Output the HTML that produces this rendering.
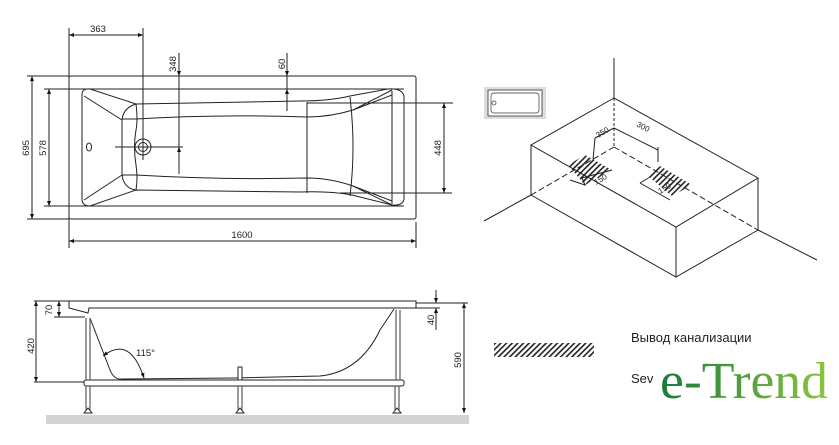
<!DOCTYPE html>
<html><head><meta charset="utf-8"><style>
html,body{margin:0;padding:0;background:#fff;width:839px;height:445px;overflow:hidden}
svg{display:block}
text{font-family:"Liberation Sans",sans-serif;fill:#222}
</style></head><body>
<svg width="839" height="445" viewBox="0 0 839 445" xmlns="http://www.w3.org/2000/svg">
<defs>
<marker id="a" viewBox="0 0 10 10" refX="10" refY="5" markerWidth="5" markerHeight="5" orient="auto-start-reverse"><path d="M0,1 L10,5 L0,9 z" fill="#111"/></marker>
<pattern id="h" width="4" height="4" patternUnits="userSpaceOnUse" patternTransform="rotate(45)"><rect width="1.6" height="4" fill="#222"/></pattern>
<linearGradient id="g" x1="0" x2="1"><stop offset="0" stop-color="#1a7a3a"/><stop offset="1" stop-color="#8cc63f"/></linearGradient>
</defs>
<g stroke="#222" stroke-width="1" fill="none">
<rect x="69" y="76" width="347" height="143" rx="2"/>
<line x1="44" y1="89" x2="404" y2="89"/>
<line x1="44" y1="206" x2="404" y2="206"/>
<line x1="27" y1="76" x2="69" y2="76"/>
<line x1="27" y1="219" x2="69" y2="219"/>
<path d="M82,95 Q82,88 90,89 L136,104 L300,101 Q330,101 350,96 L388,89 Q402,88 404,96 L404,199 Q403,206 392,205 L352,195 Q330,191 300,192 L136,190 L90,206 Q82,206 82,199 Z"/>
<path d="M136,104 Q123,108 122,120 L122,174 Q123,188 136,190"/>
<path d="M136,104 Q138,120 136,130 Q133,147 136,165 Q138,178 136,190"/>
<path d="M122,119 L136,119 Q220,114 307,117 Q330,117 353,110 L392,95"/>
<path d="M122,175 L136,175 Q220,180 307,178 Q330,178 353,186 L392,201"/>
<line x1="84" y1="96" x2="122" y2="120"/>
<line x1="84" y1="200" x2="122" y2="175"/>
<line x1="392" y1="90" x2="353" y2="110"/>
<line x1="392" y1="205" x2="353" y2="186"/>
<line x1="307" y1="102" x2="307" y2="193"/>
<path d="M350,97 Q356,147 350,196"/>
<line x1="392" y1="91" x2="392" y2="204"/>
<circle cx="143" cy="147" r="8"/><circle cx="143" cy="147" r="4.5"/>
<ellipse cx="89" cy="147" rx="2.5" ry="4"/>
<line x1="115" y1="147" x2="183" y2="147"/>
<line x1="143" y1="28" x2="143" y2="160"/>
<line x1="69" y1="28" x2="69" y2="248"/>
<line x1="416" y1="222" x2="416" y2="248"/>
<line x1="179" y1="53" x2="179" y2="174"/>
<line x1="287" y1="53" x2="287" y2="111"/>
<line x1="307" y1="103" x2="453" y2="103"/>
<line x1="340" y1="193" x2="452" y2="193"/>
<g marker-start="url(#a)" marker-end="url(#a)">
<line x1="32" y1="76" x2="32" y2="219"/>
<line x1="49" y1="89" x2="49" y2="206"/>
<line x1="69" y1="35" x2="143" y2="35"/>
<line x1="69" y1="241" x2="416" y2="241"/>
<line x1="444" y1="103" x2="444" y2="193"/>
</g>
<line x1="179" y1="60" x2="179" y2="76" marker-end="url(#a)"/>
<line x1="179" y1="160" x2="179" y2="147" marker-end="url(#a)"/>
<line x1="287" y1="60" x2="287" y2="76" marker-end="url(#a)"/>
<line x1="287" y1="100" x2="287" y2="89" marker-end="url(#a)"/>

<path d="M69,301 L416,301 L416,308 L89,308 L88,313 L69,308 Z"/>
<line x1="54" y1="317" x2="85" y2="317"/>
<line x1="34" y1="301" x2="69" y2="301"/>
<line x1="34" y1="382" x2="84" y2="382"/>
<line x1="416" y1="303" x2="468" y2="303"/>
<line x1="416" y1="308" x2="440" y2="308"/>
<g marker-start="url(#a)" marker-end="url(#a)">
<line x1="36" y1="301" x2="36" y2="382"/>
<line x1="59" y1="301" x2="59" y2="317"/>
<line x1="464" y1="303" x2="464" y2="413"/>
</g>
<line x1="436" y1="290" x2="436" y2="303" marker-end="url(#a)"/>
<line x1="436" y1="330" x2="436" y2="308" marker-end="url(#a)"/>
<path d="M90,318 L110,370 Q114,380 122,379 L235,378 L320,376 Q360,372 380,330 L394,309"/>
<path d="M103,356 Q130,335 144,378" marker-start="url(#a)" marker-end="url(#a)"/>
<rect x="84" y="380" width="320" height="6" rx="2" fill="#fff"/>
<g stroke="#666" stroke-width="1.3">
<line x1="86" y1="318" x2="86" y2="380"/><line x1="90" y1="318" x2="90" y2="380"/>
<line x1="396" y1="310" x2="396" y2="380"/><line x1="400" y1="310" x2="400" y2="380"/>
<line x1="86" y1="386" x2="86" y2="410"/><line x1="90" y1="386" x2="90" y2="410"/>
<line x1="238" y1="386" x2="238" y2="410"/><line x1="242" y1="386" x2="242" y2="410"/>
<line x1="395" y1="386" x2="395" y2="410"/><line x1="399" y1="386" x2="399" y2="410"/>
</g>
<rect x="238" y="367" width="4" height="13" fill="#fff"/>
<path d="M84,413 L88,408 L92,413 Z M236,413 L240,408 L244,413 Z M393,413 L397,408 L401,413 Z" fill="#fff"/>
</g>
<rect x="46" y="415" width="423" height="9" fill="#d3d3d3"/>
<g font-size="9.5">
<text x="98" y="32" text-anchor="middle">363</text>
<text x="242" y="238" text-anchor="middle">1600</text>
<text transform="translate(29,148) rotate(-90)" text-anchor="middle">695</text>
<text transform="translate(46,148) rotate(-90)" text-anchor="middle">578</text>
<text transform="translate(176,64) rotate(-90)" text-anchor="middle">348</text>
<text transform="translate(285,64) rotate(-90)" text-anchor="middle">60</text>
<text transform="translate(441,148) rotate(-90)" text-anchor="middle">448</text>
<text transform="translate(52,310) rotate(-90)" text-anchor="middle">70</text>
<text transform="translate(34,346) rotate(-90)" text-anchor="middle">420</text>
<text transform="translate(434,320) rotate(-90)" text-anchor="middle">40</text>
<text transform="translate(461,360) rotate(-90)" text-anchor="middle">590</text>
<text x="136" y="356">115°</text>
</g>

<rect x="484" y="87" width="62" height="32" fill="#ddd"/>
<rect x="488" y="90" width="54" height="26" fill="#fff" stroke="#333" stroke-width="0.8"/>
<rect x="491" y="93" width="48" height="20" rx="3" fill="none" stroke="#333" stroke-width="0.7"/>
<circle cx="494" cy="103" r="2" fill="none" stroke="#333" stroke-width="0.7"/>
<g stroke="#222" stroke-width="1" fill="none">
<line x1="614" y1="58" x2="614" y2="98"/>
<line x1="614" y1="98" x2="614" y2="147" stroke-dasharray="3,2"/>
<path d="M614,98 L531,145 L676,227 L758,178 Z"/>
<path d="M531,145 L531,195 L676,277 L758,230 L758,178"/>
<line x1="676" y1="227" x2="676" y2="277"/>
<line x1="531" y1="195" x2="484" y2="221"/>
<line x1="758" y1="230" x2="817" y2="260"/>
<line x1="614" y1="147" x2="531" y2="195" stroke-dasharray="6,3"/>
<line x1="614" y1="147" x2="758" y2="230" stroke-dasharray="6,3"/>
<line x1="614" y1="128" x2="658" y2="150"/>
<line x1="595" y1="138" x2="614" y2="128"/>
<line x1="595" y1="138" x2="593" y2="160"/>
<line x1="658" y1="147" x2="658" y2="162"/>
<path d="M568,165 L585,155 L612,170 L585,185 Z" fill="url(#h)" stroke="none"/>
<path d="M582,178 L612,170 M570,180 L585,185 L582,178"/>
<path d="M648,176 L660,166 L692,185 L672,196 Z" fill="url(#h)" stroke="none"/>
<path d="M640,183 L670,200 M640,183 L650,177"/>
</g>
<g font-size="8" fill="#444">
<text transform="translate(598,138) rotate(-30)">350</text>
<text transform="translate(636,126) rotate(28)">300</text>
<text transform="translate(596,185) rotate(-30)">150</text>
<text transform="translate(660,194) rotate(-30)">150</text>
</g>
<rect x="494" y="343" width="100" height="14" fill="url(#h)"/>
<text x="631" y="342" font-size="13">Вывод канализации</text>
<text x="631" y="383" font-size="13">Sev</text>
<rect x="656" y="350" width="180" height="60" fill="#fff"/>
<text x="660" y="398" font-size="52" style="font-family:'Liberation Serif',serif;fill:url(#g)" textLength="168" lengthAdjust="spacingAndGlyphs">e-Trend</text>
</svg>
</body></html>
